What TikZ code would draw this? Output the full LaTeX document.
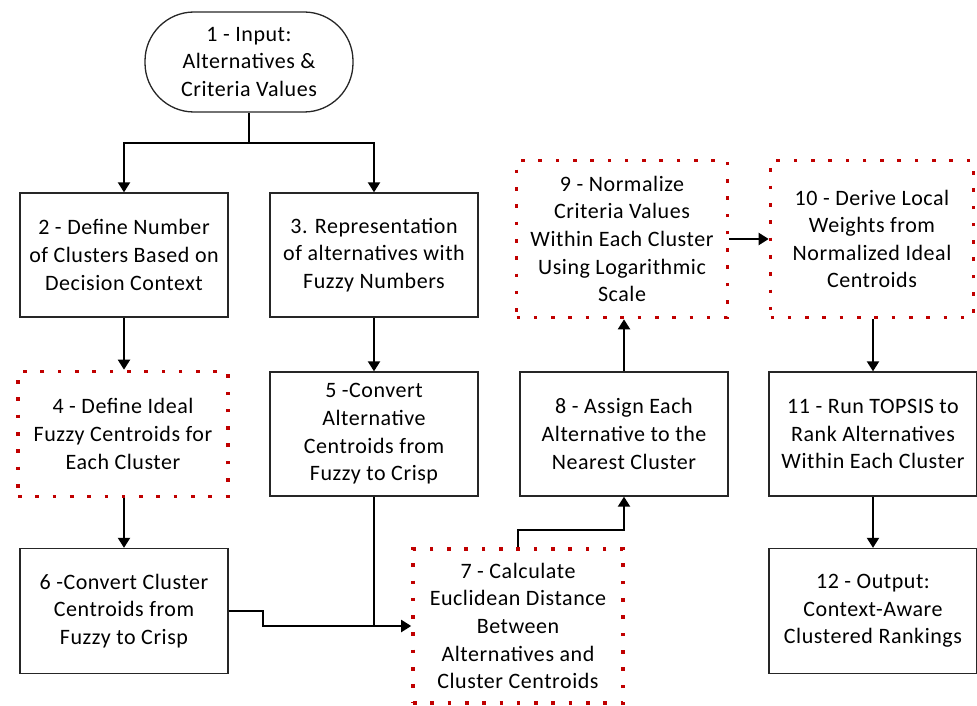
\documentclass[tikz,border=0pt]{standalone}
\usepackage{fontspec}
\setmainfont{Carlito}[LetterSpace=2.5]
\usetikzlibrary{arrows.meta}
\definecolor{dotred}{HTML}{C00000}
\tikzset{
  every node/.style={font=\fontsize{22pt}{27.6pt}\selectfont, align=center},
  plainbox/.style={draw=black!85, line width=1.3pt, rectangle, inner sep=0pt},
  dotbox/.style={draw=dotred, line width=3.6pt, dash pattern=on 3.6pt off 13.7pt, rectangle, inner sep=0pt},
  arr/.style={line width=2pt, -{Triangle[width=12pt,length=10pt]}},
  conn/.style={line width=2pt}
}
\begin{document}
\begin{tikzpicture}[x=1pt,y=-1pt]
\useasboundingbox (0,0) rectangle (977,706);
\node[plainbox, rounded corners=49pt, minimum width=208pt, minimum height=100pt] (n1) at (249,62) {1 - Input:\\Alternatives \&\\Criteria Values};
\node[plainbox, minimum width=208pt, minimum height=124pt] (n2) at (124,255) {2 - Define Number\\of Clusters Based on\\Decision Context};
\node[plainbox, minimum width=208pt, minimum height=124pt] (n3) at (374,255) {3. Representation\\of alternatives with\\Fuzzy Numbers};
\node[dotbox, minimum width=210pt, minimum height=125pt] (n4) at (123,434) {4 - Define Ideal\\Fuzzy Centroids for\\Each Cluster};
\node[plainbox, minimum width=208pt, minimum height=124pt] (n5) at (374,434) {5 -Convert\\Alternative\\Centroids from\\Fuzzy to Crisp};
\node[plainbox, minimum width=208pt, minimum height=125pt] (n6) at (124,611) {6 -Convert Cluster\\Centroids from\\Fuzzy to Crisp};
\node[dotbox, minimum width=210pt, minimum height=154pt] (n7) at (518,626) {7 - Calculate\\Euclidean Distance\\Between\\Alternatives and\\Cluster Centroids};
\node[plainbox, minimum width=208pt, minimum height=124pt] (n8) at (624,434) {8 - Assign Each\\Alternative to the\\Nearest Cluster};
\node[dotbox, minimum width=211pt, minimum height=157pt] (n9) at (622,239) {9 - Normalize\\Criteria Values\\Within Each Cluster\\Using Logarithmic\\Scale};
\node[dotbox, minimum width=203pt, minimum height=157pt] (n10) at (872,239) {10 - Derive Local\\Weights from\\Normalized Ideal\\Centroids};
\node[plainbox, minimum width=208pt, minimum height=124pt] (n11) at (873,434) {11 - Run TOPSIS to\\Rank Alternatives\\Within Each Cluster};
\node[plainbox, minimum width=208pt, minimum height=125pt] (n12) at (873,611) {12 - Output:\\Context-Aware\\Clustered Rankings};

\draw[conn] (n1.south) -- ++(0,30) coordinate (j1);
\draw[arr] (j1) -| (n2.north);
\draw[arr] (j1) -| (n3.north);
\draw[arr] (n2.south) -- (n4.north -| n2.south);
\draw[arr] (n3.south) -- (n5.north);
\draw[arr] (n4.south -| n6.north) -- (n6.north);
\draw[arr] (n6.east) -- ++(34,0) |- (n7.west);
\draw[conn] (n5.south) -- (n5.south |- n7.west);
\draw[arr] (n7.north) -- ++(0,-17) -| (n8.south);
\draw[arr] (n8.north) -- (n8.north |- n9.south);
\draw[arr] (n9.east) -- (n10.west);
\draw[arr] (n11.north |- n10.south) -- (n11.north);
\draw[arr] (n11.south) -- (n12.north);
\end{tikzpicture}
\end{document}
